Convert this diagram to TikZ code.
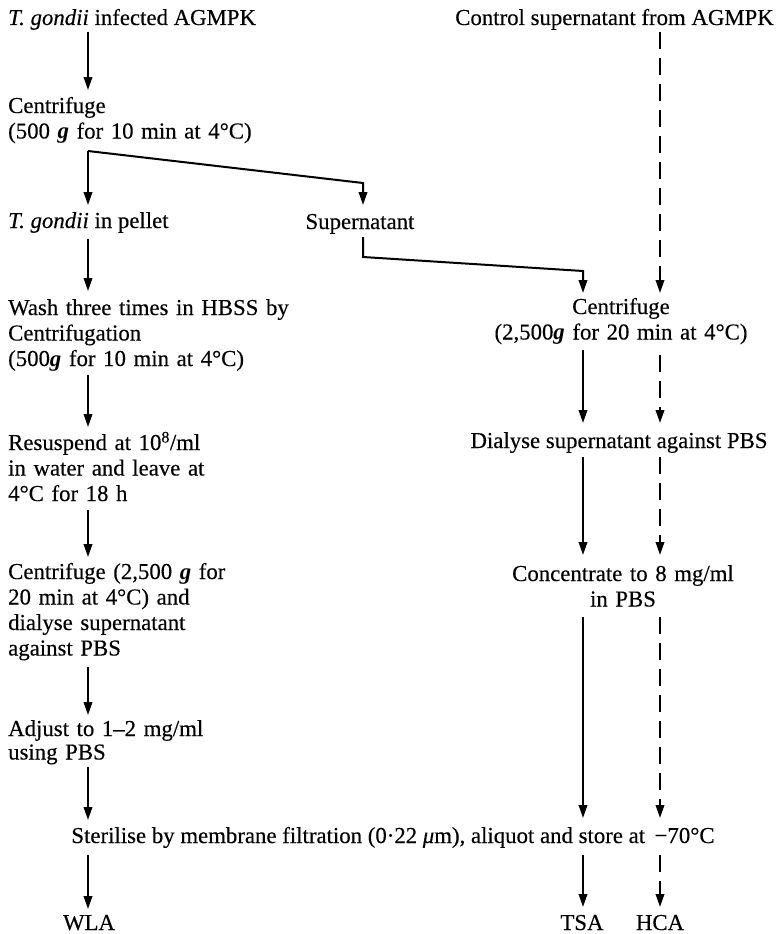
\documentclass[tikz,border=0pt]{standalone}
\usepackage{fontspec}
\setmainfont{Liberation Serif}[UprightFeatures={FakeBold=0.3},ItalicFeatures={FakeBold=0.3}]
\usetikzlibrary{arrows.meta,calc}
\begin{document}
\begin{tikzpicture}[x=1pt,y=-1pt,
  txt/.style={inner sep=0pt, font=\fontsize{22.8}{25.5}\selectfont},
  lbox/.style={txt, anchor=base west, text width=320pt, align=left},
  cbox/.style={txt, anchor=base, text width=320pt, align=center},
  arr/.style={line width=2pt, -{Triangle[length=13pt,width=8.5pt]}},
  dsh/.style={dash pattern=on 17pt off 9pt}]
\useasboundingbox (0,0) rectangle (781,934);
\coordinate (xL) at (88,0);
\coordinate (xM) at (363,0);
\coordinate (xS) at (583,0);
\coordinate (xD) at (660,0);
\newcommand{\bgee}{\textbf{\textit{g}}}
% left column
\node[txt, anchor=base west] (t1) at (8,25) {\textit{T. gondii} infected AGMPK};
\node[lbox] (n2) at (8,113) {Centrifuge\\(500 \bgee{} for 10 min at 4°C)};
\node[txt, anchor=base west] (n3a) at (8,228) {\textit{T. gondii} in pellet};
\node[txt, anchor=base] (n3b) at (360,229) {Supernatant};
\node[lbox] (n4) at (8,315) {Wash three times in HBSS by\\Centrifugation\\(500\bgee{} for 10 min at 4°C)};
\node[lbox] (n5) at (8,450) {Resuspend at 10\textsuperscript{8}/ml\\in water and leave at\\4°C for 18 h};
\node[lbox] (n6) at (8,579) {Centrifuge (2,500 \bgee{} for\\20 min at 4°C) and\\dialyse supernatant\\against PBS};
\node[lbox, font=\fontsize{22.8}{23.5}\selectfont] (n7) at (8,736) {Adjust to 1–2 mg/ml\\using PBS};
% right column
\node[txt, anchor=base east] (c1) at (774,25) {Control supernatant from AGMPK};
\node[cbox] (r1) at (621,314) {Centrifuge\\(2,500\bgee{} for 20 min at 4°C)};
\node[txt, anchor=base] (r2) at (619,448) {Dialyse supernatant against PBS};
\node[cbox] (r3) at (623,581) {Concentrate to 8 mg/ml\\in PBS};
% bottom
\node[txt, anchor=base] (s) at (393,843) {Sterilise by membrane filtration (0·22 \textit{μ}m), aliquot and store at \,−70°C};
\node[txt, anchor=base] (wla) at (89,930) {WLA};
\node[txt, anchor=base] (tsa) at (582,930) {TSA};
\node[txt, anchor=base] (hca) at (660,930) {HCA};
% left arrows
\draw[arr] ($(t1.base -| xL)+(0,7)$) -- ($(n2.base -| xL)+(0,-23)$);
\coordinate (b1) at ($(n2.base -| xL)+(0,38)$);
\coordinate (b2) at ($(n3b.base -| xM)+(0,-46)$);
\draw[arr] (b1) -- ($(n3a.base -| xL)+(0,-23)$);
\draw[arr] (b1) -- (b2) -- ($(n3b.base -| xM)+(0,-24)$);
\draw[arr] ($(n3a.base -| xL)+(0,11)$) -- ($(n4.base -| xL)+(0,-24)$);
\draw[arr] ($(n4.base -| xL)+(0,60)$) -- ($(n5.base -| xL)+(0,-23)$);
\draw[arr] ($(n5.base -| xL)+(0,60)$) -- ($(n6.base -| xL)+(0,-22)$);
\draw[arr] ($(n6.base -| xL)+(0,88)$) -- ($(n7.base -| xL)+(0,-21)$);
\draw[arr] ($(n7.base -| xL)+(0,31)$) -- ($(s.base -| xL)+(0,-23)$);
\draw[arr] ($(s.base -| xL)+(0,12)$) -- ($(wla.base -| xL)+(0,-21)$);
% supernatant to centrifuge
\draw[arr] ($(n3b.base -| xM)+(0,8)$) -- ($(n3b.base -| xM)+(0,28)$) -- ($(n3b.base -| xS)+(0,42)$) -- ($(r1.base -| xS)+(0,-21)$);
\draw[arr,dsh] ($(c1.base -| xD)+(0,7)$) -- ($(r1.base -| xD)+(0,-21)$);
% right arrows
\draw[arr] ($(r1.base -| xS)+(0,36)$) -- ($(r2.base -| xS)+(0,-25)$);
\draw[arr,dsh] ($(r1.base -| xD)+(0,41)$) -- ($(r2.base -| xD)+(0,-25)$);
\draw[arr] ($(r2.base -| xS)+(0,9)$) -- ($(r3.base -| xS)+(0,-26)$);
\draw[arr,dsh] ($(r2.base -| xD)+(0,9)$) -- ($(r3.base -| xD)+(0,-26)$);
\draw[arr] ($(r3.base -| xS)+(0,36)$) -- ($(s.base -| xS)+(0,-25)$);
\draw[arr,dsh] ($(r3.base -| xD)+(0,36)$) -- ($(s.base -| xD)+(0,-25)$);
\draw[arr] ($(s.base -| xS)+(0,12)$) -- ($(tsa.base -| xS)+(0,-23)$);
\draw[arr,dsh] ($(s.base -| xD)+(0,12)$) -- ($(hca.base -| xD)+(0,-23)$);
\end{tikzpicture}
\end{document}
